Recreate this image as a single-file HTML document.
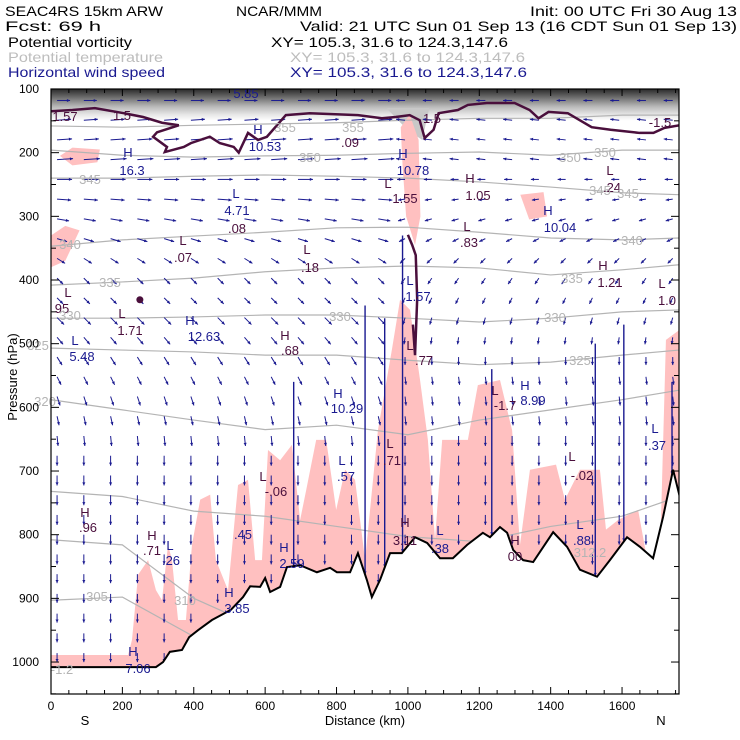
<!DOCTYPE html>
<html><head><meta charset="utf-8"><style>
html,body{margin:0;padding:0;background:#fff;}
svg{display:block;font-family:"Liberation Sans",sans-serif;}
</style></head><body>
<svg id="chart" width="740" height="740" viewBox="0 0 740 740" xmlns="http://www.w3.org/2000/svg">
<defs>
<clipPath id="plotClip"><rect x="51" y="89" width="628" height="605"/></clipPath>
<linearGradient id="topShade" x1="0" y1="0" x2="0" y2="1">
<stop offset="0" stop-color="#2a2a2a"/><stop offset="0.25" stop-color="#6a6a6a"/><stop offset="0.55" stop-color="#b8b8b8"/><stop offset="0.8" stop-color="#e6e6e6"/><stop offset="1" stop-color="#ffffff"/>
</linearGradient>
</defs>
<g font-size="14">
<text x="5" y="16" textLength="158" lengthAdjust="spacingAndGlyphs">SEAC4RS 15km ARW</text>
<text x="236" y="16" textLength="86" lengthAdjust="spacingAndGlyphs">NCAR/MMM</text>
<text x="530" y="16" textLength="207" lengthAdjust="spacingAndGlyphs">Init: 00 UTC Fri 30 Aug 13</text>
<text x="5" y="31" textLength="96" lengthAdjust="spacingAndGlyphs">Fcst:    69 h</text>
<text x="300" y="31" textLength="437" lengthAdjust="spacingAndGlyphs">Valid: 21 UTC Sun 01 Sep 13 (16 CDT Sun 01 Sep 13)</text>
<text x="8" y="47" textLength="124" lengthAdjust="spacingAndGlyphs">Potential vorticity</text>
<text x="271" y="47" textLength="237" lengthAdjust="spacingAndGlyphs">XY= 105.3, 31.6 to 124.3,147.6</text>
<text x="8" y="62" fill="#bdbdbd" textLength="155" lengthAdjust="spacingAndGlyphs">Potential temperature</text>
<text x="290" y="62" fill="#bdbdbd" textLength="235" lengthAdjust="spacingAndGlyphs">XY= 105.3, 31.6 to 124.3,147.6</text>
<text x="8" y="77" fill="#1a1a90" textLength="157" lengthAdjust="spacingAndGlyphs">Horizontal wind speed</text>
<text x="290" y="77" fill="#1a1a90" textLength="237" lengthAdjust="spacingAndGlyphs">XY= 105.3, 31.6 to 124.3,147.6</text>
</g>
<g id="plot" clip-path="url(#plotClip)"></g>
<g id="labels" font-size="13"></g>
<g id="axes" font-size="12"></g>
</svg>
<script>
// ---- data ----
var terrainKm = [0,294,314,333,367,387,412,451,504,538,558,586,600,614,642,661,698,745,782,801,838,860,885,899,922,950,983,1020,1054,1090,1126,1166,1210,1230,1258,1278,1295,1323,1351,1407,1446,1482,1530,1566,1614,1650,1687,1715,1743,1762];
var terrainP = [1008,1008,1000,984,981,961,950,934,918,898,881,882,868,890,882,851,848,859,852,859,859,829,871,898,871,829,829,804,813,837,837,816,797,804,788,797,824,840,843,796,819,855,866,840,804,819,837,772,698,741];
var cloudKm = [0,216,227,244,272,294,311,328,339,356,378,395,418,446,462,496,524,552,572,591,608,642,675,698,715,743,771,799,824,852,880,916,955,978,1006,1034,1056,1076,1096,1168,1196,1258,1292,1314,1342,1415,1440,1482,1538,1555,1589,1645,1673,1706,1723,1762];
var cloudTopP = [989,989,965,863,840,887,903,816,840,934,934,816,745,737,840,887,722,714,840,840,667,683,659,777,730,651,651,761,698,714,840,636,510,431,447,557,651,808,651,651,565,557,636,816,698,690,745,698,698,792,777,761,847,840,494,478];
var thetaKm = [0,200,400,600,800,1000,1200,1400,1600,1760];
var thetaValues = [355,350,345,340,335,330,325,320,315,310,305];
var theta355 = [158,160,157,155,153,149,146,146,141,141];
var theta350 = [196,204,207,205,204,201,199,204,196,196];
var theta345 = [240,240,237,235,237,240,246,254,263,266];
var theta340 = [347,337,331,325,318,317,325,334,337,334];
var theta335 = [408,403,397,387,381,378,381,392,384,376];
var theta330 = [460,460,458,455,455,460,466,460,450,447];
var theta325 = [507,510,513,518,518,526,533,529,518,510];
var theta320 = [588,604,620,635,628,643,620,604,588,573];
var theta315 = [732,740,763,771,787,803,811,787,771,740];
var theta310 = [808,816,900,950,950,950,950,950,950,950];
var theta305 = [903,898,960,1000,1000,1000,1000,1000,1000,1000];
var pvKm = [0,60,123,204,258,311,358,297,286,325,319,372,392,445,473,512,526,552,580,605,658,725,860,927,966,1005,1033,1047,1072,1086,1140,1168,1221,1299,1341,1366,1394,1448,1515,1568,1649,1688,1719,1761];
var pvP = [135,133,130,138,144,153,157,168,175,191,199,191,185,175,185,191,200,169,180,175,141,138,141,146,144,141,149,177,164,138,133,125,122,122,133,146,136,138,160,164,169,169,161,157];
var pvStreakKm = [1000,1012,1022,1026,1020,1014];
var pvStreakP = [329,345,361,430,518,470];
var windP = [118,149,180,211,242,273,304,335,366,397,428,459,490,521,552,583,614,645,676,707,738,769,800,831,862,893,924,955,986];
var windKm = [17,92,167,242,317,392,467,542,617,692,767,842,917,992,1067,1142,1217,1292,1367,1442,1517,1592,1667,1742];
var uWest = [13,14,15,16,15,14,12,10,8,6,6,7,6,5,4,3,2,1,0,0,0,0,0,0,0,0,0,0,0];
var uEast = [-9,-9,-9,-9,-8,-7,-7,-6,-5,-4,-3,-2,-1,0,1,1,1,0,0,0,0,0,0,0,0,0,0,0,0];
var wDown = [0,-1,-1,-1,0,1,2,3,5,6,6,7,7,8,8,9,9,10,10,10,10,10,10,10,9,9,9,9,9];
var updraftKm = [680,880,935,985,1235,1525,1605,1740];
var updraftTopP = [560,440,460,330,540,500,470,560];
var ribbonBlobs = [
 {km:[25,60,137,130,60], p:[205,192,195,215,220]},
 {km:[0,40,80,40,0], p:[330,315,322,370,380]},
 {km:[980,1005,1030,1035,1020,995,985], p:[160,140,180,300,345,300,220]},
 {km:[1315,1380,1390,1340], p:[266,262,300,305]}
];
var xTicks = [0,200,400,600,800,1000,1200,1400,1600];
var yTicks = [100,200,300,400,500,600,700,800,900,1000];

// ---- scales ----
function X(km){return 51+km*0.3569;}
function Y(p){return 89+(p-100)*0.6367;}
var NS='http://www.w3.org/2000/svg';
function mk(tag,attrs,parent){var e=document.createElementNS(NS,tag);for(var k in attrs)e.setAttribute(k,attrs[k]);parent.appendChild(e);return e;}
function terrainAt(km){for(var i=1;i<terrainKm.length;i++){if(km<=terrainKm[i]){var t=(km-terrainKm[i-1])/(terrainKm[i]-terrainKm[i-1]);return terrainP[i-1]+t*(terrainP[i]-terrainP[i-1]);}}return terrainP[terrainP.length-1];}
var plot=document.getElementById('plot');

var sh=mk('rect',{x:51,y:89,width:628,height:Y(150)-89,fill:'url(#topShade)'},plot);


var funnel=mk('path',{d:'M'+X(940)+' '+Y(130)+' L'+X(1000)+' '+Y(165)+' L'+X(1040)+' '+Y(180)+' L'+X(1060)+' '+Y(130)+' Z',fill:'#c8c8c8'},plot);



var d='M'+X(cloudKm[0])+' '+Y(1050);
for(var i=0;i<cloudKm.length;i++)d+=' L'+X(cloudKm[i])+' '+Y(cloudTopP[i]);
d+=' L'+X(cloudKm[cloudKm.length-1])+' '+Y(1050)+' Z';
var cl=mk('path',{d:d,fill:'#ffc0c0'},plot);


ribbonBlobs.forEach(function(b,j){var dd='';for(var i=0;i<b.km.length;i++)dd+=(i?' L':'M')+X(b.km[i])+' '+Y(b.p[i]);
 var e=mk('path',{d:dd+' Z',fill:'#ffc0c0'},plot);
 
 });

var thetaSeries=[theta355,theta350,theta345,theta340,theta335,theta330,theta325,theta320,theta315,theta310,theta305];
thetaSeries.forEach(function(s,j){var dd='';for(var i=0;i<thetaKm.length;i++)dd+=(i?' L':'M')+X(thetaKm[i])+' '+Y(s[i]);
 var e=mk('path',{d:dd,fill:'none',stroke:'#b4b4b4','stroke-width':1.2},plot);
 
 });

function arrow(x1,y1,x2,y2,name,sw){var g=mk('g',{},plot);
 
 
 mk('line',{x1:x1,y1:y1,x2:x2,y2:y2,stroke:'#1a1a90','stroke-width':sw||1}, g);
 var a=Math.atan2(y2-y1,x2-x1),h=3.5;
 mk('path',{d:'M'+x2+' '+y2+' L'+(x2-h*Math.cos(a-0.45))+' '+(y2-h*Math.sin(a-0.45))+' L'+(x2-h*Math.cos(a+0.45))+' '+(y2-h*Math.sin(a+0.45))+' Z',fill:'#1a1a90'},g);}
for(var r=0;r<windP.length;r++){for(var c=0;c<windKm.length;c++){
 var km=windKm[c],p=windP[r];if(p>terrainAt(km)-8)continue;
 var u=km<950?uWest[r]:uEast[r];var w=wDown[r];
 var x0=X(km),y0=Y(p);
 if(Math.abs(u)+Math.abs(w)<1)continue;
 arrow(x0,y0,x0+u,y0+w,'wind-arrow');}}
for(var k=0;k<updraftKm.length;k++){var xk=X(updraftKm[k]);
 arrow(xk,Y(updraftTopP[k]),xk,Y(terrainAt(updraftKm[k])),'updraft-wind-column',1.4);}

var td='M'+X(terrainKm[0])+' '+Y(1060);
for(var i=0;i<terrainKm.length;i++)td+=' L'+X(terrainKm[i])+' '+Y(terrainP[i]);
td+=' L'+X(terrainKm[terrainKm.length-1])+' '+Y(1060)+' Z';
var tf=mk('path',{d:td,fill:'#fff'},plot);


var tl='';for(var i=0;i<terrainKm.length;i++)tl+=(i?' L':'M')+X(terrainKm[i])+' '+Y(terrainP[i]);
var tle=mk('path',{d:tl,fill:'none',stroke:'#000','stroke-width':2},plot);



var pd='';for(var i=0;i<pvKm.length;i++)pd+=(i?' L':'M')+X(pvKm[i])+' '+Y(pvP[i]);
var pv=mk('path',{d:pd,fill:'none',stroke:'#4a0f3c','stroke-width':2.5},plot);


var sd='';for(var i=0;i<pvStreakKm.length;i++)sd+=(i?' L':'M')+X(pvStreakKm[i])+' '+Y(pvStreakP[i]);
var pvs=mk('path',{d:sd,fill:'none',stroke:'#4a0f3c','stroke-width':2.5},plot);


var dot=mk('circle',{cx:X(249),cy:Y(431),r:3.5,fill:'#4a0f3c'},plot);



var B='#1a1a90',P='#4a0f3c',G='#b4b4b4';
var labs=[
['1.57',65,121,P],['1.5',122,120,P],['5.85',246,98,B],['H',258,134,B],['10.53',265,151,B],['H',128,157,B],['16.3',132,175,B],
['.09',350,147,P],['1.5',432,123,P],['-1.5',660,127,P],['H',403,158,B],['10.78',413,175,B],['L',388,188,P],['1.55',405,203,P],
['H',470,183,P],['1.05',478,200,P],['L',610,175,P],['.24',612,192,P],['L',236,198,B],['4.71',237,215,B],['.08',237,233,P],
['H',548,215,B],['10.04',560,232,B],['L',183,245,P],['.07',183,262,P],['L',467,231,P],['.83',469,247,P],['L',307,254,P],['.18',310,272,P],
['H',603,270,P],['1.21',610,287,P],['L',662,288,P],['1.0',667,305,P],['L',410,285,B],['1.57',418,301,B],['L',68,297,P],['95',62,313,P],
['L',122,318,P],['1.71',130,335,P],['H',190,325,B],['12.63',204,341,B],['H',285,340,P],['.68',290,355,P],['L',410,350,P],['.77',424,365,P],
['L',75,345,B],['5.48',82,361,B],['H',338,398,B],['10.29',347,413,B],['L',495,395,P],['-1.7',505,410,P],['H',525,390,B],['8.99',533,405,B],
['L',655,433,B],['.37',657,450,B],['L',342,465,B],['.57',346,481,B],['L',390,448,P],['.71',392,465,P],['L',263,481,P],['-.06',276,496,P],
['L',572,461,P],['-.02',582,480,P],['H',85,517,P],['.96',88,532,P],['H',152,540,P],['.71',152,555,P],['L',170,550,B],['.26',171,565,B],
['.45',243,539,B],['H',284,552,B],['2.59',292,568,B],['H',405,527,P],['3.11',405,545,P],['L',440,535,B],['.38',440,553,B],['H',515,545,P],['00',515,561,P],
['L',580,529,B],['.88',582,545,B],['H',229,597,B],['3.85',237,613,B],['H',133,656,B],['7.06',138,673,B],['-1.2',62,674,G],
['355',285,132,G],['355',353,132,G],['350',310,162,G],['350',570,162,G],['350',605,157,G],['345',90,184,G],['345',600,195,G],['345',628,198,G],
['340',70,249,G],['340',632,245,G],['335',110,287,G],['335',572,283,G],['330',70,320,G],['330',340,321,G],['330',555,322,G],['325',38,350,G],['325',580,365,G],
['320',45,406,G],['312.2',590,557,G],['305',97,601,G],['310',185,605,G]];
var lg=document.getElementById('labels');
labs.forEach(function(l){var t=mk('text',{x:l[1],y:l[2],fill:l[3],'text-anchor':'middle'},lg);t.textContent=l[0];
 
 });

var ax=document.getElementById('axes');
var fr=mk('rect',{x:51,y:89,width:628,height:605,fill:'none',stroke:'#000','stroke-width':1.2},ax);


for(var km=0;km<=1750;km+=50){var xx=X(km),L=(km%200==0)?7:4;
 mk('line',{x1:xx,y1:694,x2:xx,y2:694-L,stroke:'#000'},ax);mk('line',{x1:xx,y1:89,x2:xx,y2:89+L,stroke:'#000'},ax);}
for(var p=100;p<=1050;p+=50){var yy=Y(p),L2=(p%100==0)?8:5;
 mk('line',{x1:51,y1:yy,x2:51+L2,y2:yy,stroke:'#000'},ax);mk('line',{x1:679,y1:yy,x2:679-L2,y2:yy,stroke:'#000'},ax);}
xTicks.forEach(function(v){var t=mk('text',{x:X(v),y:710,'text-anchor':'middle'},ax);t.textContent=v;
 
 });
yTicks.forEach(function(v){var t=mk('text',{x:39,y:Y(v)+4,'text-anchor':'end'},ax);t.textContent=v;
 
 });
var xt=mk('text',{x:365,y:725,'text-anchor':'middle','font-size':13},ax);xt.textContent='Distance (km)';


var s=mk('text',{x:85,y:725,'text-anchor':'middle','font-size':13},ax);s.textContent='S';


var n=mk('text',{x:661,y:725,'text-anchor':'middle','font-size':13},ax);n.textContent='N';


var yt=mk('text',{x:0,y:0,'text-anchor':'middle','font-size':13,transform:'translate(17,377) rotate(-90)'},ax);yt.textContent='Pressure (hPa)';


</script>
</body></html>
